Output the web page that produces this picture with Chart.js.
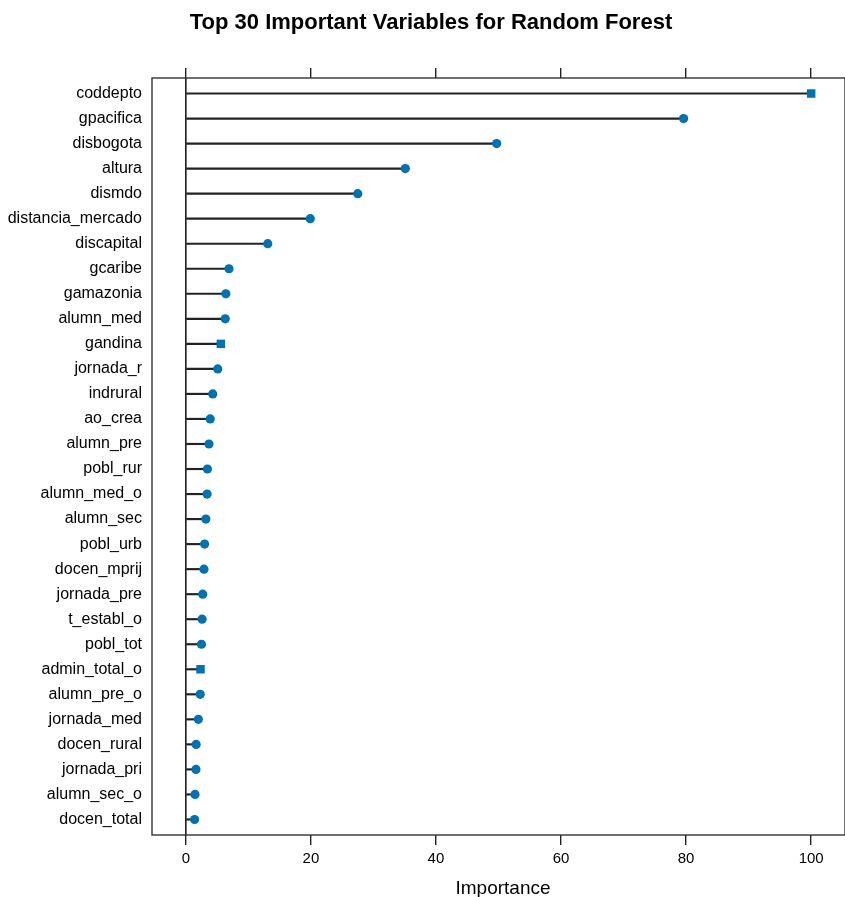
<!DOCTYPE html>
<html>
<head>
<meta charset="utf-8">
<script src="https://cdn.jsdelivr.net/npm/chart.js@4"></script>
<style>
  html, body { margin: 0; padding: 0; background: #fff; }
  #wrap { width: 845px; height: 897px; }
</style>
</head>
<body>
<div id="wrap"><canvas id="impChart" width="845" height="897"></canvas></div>
<script>
// Importancia de variables (Random Forest), de mayor a menor
const variables = ['coddepto', 'gpacifica', 'disbogota', 'altura', 'dismdo', 'distancia_mercado',
    'discapital', 'gcaribe', 'gamazonia', 'alumn_med', 'gandina', 'jornada_r', 'indrural',
    'ao_crea', 'alumn_pre', 'pobl_rur', 'alumn_med_o', 'alumn_sec', 'pobl_urb', 'docen_mprij',
    'jornada_pre', 't_establ_o', 'pobl_tot', 'admin_total_o', 'alumn_pre_o', 'jornada_med',
    'docen_rural', 'jornada_pri', 'alumn_sec_o', 'docen_total'];
const importance = [100, 79.6, 49.7, 35.1, 27.5, 19.9, 13.1, 6.9, 6.4, 6.3, 5.6, 5.1, 4.3,
    3.9, 3.7, 3.45, 3.4, 3.2, 3.0, 2.9, 2.7, 2.6, 2.5, 2.35, 2.3, 2.0, 1.65, 1.62, 1.47, 1.4];
const xTicks = [0, 20, 40, 60, 80, 100];

const FONT = "'Liberation Sans', Arial, sans-serif";
const dark = '#222222';
const blue = '#0072b2';

const rows = variables.map((v, i) => ({ x: importance[i], y: i }));
// unos puntos salen cuadrados en la imagen exportada
const shapes = variables.map((v, i) => [0, 10, 23].includes(i) ? 'rect' : 'circle');

// marco del panel y titulos
const panelDecor = {
    id: 'panelDecor',
    afterDraw(chart) {
        const { ctx, chartArea: a } = chart;
        ctx.save();
        ctx.strokeStyle = '#333';
        ctx.lineWidth = 1.4;
        ctx.strokeRect(a.left, a.top, a.right - a.left, a.bottom - a.top);
        ctx.fillStyle = '#000';
        ctx.textAlign = 'center';
        ctx.textBaseline = 'middle';
        ctx.font = 'bold 22px ' + FONT;
        ctx.fillText('Top 30 Important Variables for Random Forest', 431, 23);
        ctx.font = '19px ' + FONT;
        ctx.fillText('Importance', 503, 889);
        ctx.restore();
    }
};

const xScale = (pos) => ({
    type: 'linear',
    position: pos,
    min: -5.41,
    max: 105.41,
    afterBuildTicks: s => { s.ticks = xTicks.map(v => ({ value: v })); },
    afterFit: s => {
        s.height = pos === 'top' ? 78 : 62;
        s.paddingLeft = 0;
        s.paddingRight = 0;
    },
    border: { display: false },
    grid: {
        drawOnChartArea: true,
        color: c => (c.tick && c.tick.value === 0) ? dark : 'rgba(0,0,0,0)',
        lineWidth: 1.4,
        tickColor: dark,
        tickLength: 10
    },
    ticks: {
        display: pos !== 'top',
        padding: 5,
        color: '#000',
        font: { family: FONT, size: 15 }
    }
});

new Chart(document.getElementById('impChart'), {
    type: 'bar',
    data: {
        datasets: [{
            type: 'line',
            indexAxis: 'y',
            data: rows,
            showLine: false,
            pointStyle: shapes,
            pointRadius: c => shapes[c.dataIndex] === 'rect' ? 6 : 4.6,
            pointBackgroundColor: blue,
            pointBorderWidth: 0,
            xAxisID: 'x',
            yAxisID: 'y',
            order: 0
        }, {
            type: 'bar',
            data: rows,
            backgroundColor: dark,
            barThickness: 1.5,
            xAxisID: 'x',
            yAxisID: 'y',
            order: 1
        }]
    },
    options: {
        indexAxis: 'y',
        responsive: false,
        animation: false,
        layout: { autoPadding: false, padding: { left: 0, right: 0, top: 0, bottom: 0 } },
        plugins: {
            legend: { display: false },
            tooltip: { enabled: false },
            title: { display: false }
        },
        scales: {
            x: xScale('bottom'),
            x2: xScale('top'),
            y: {
                type: 'linear',
                reverse: true,
                offset: false,
                min: -0.62,
                max: 29.62,
                afterBuildTicks: s => { s.ticks = variables.map((v, i) => ({ value: i })); },
                afterFit: s => { s.width = 152; },
                border: { display: false },
                grid: { display: false },
                ticks: {
                    autoSkip: false,
                    padding: 2,
                    color: '#000',
                    font: { family: FONT, size: 16 },
                    callback: v => variables[v]
                }
            }
        }
    },
    plugins: [panelDecor]
});
</script>
</body>
</html>
